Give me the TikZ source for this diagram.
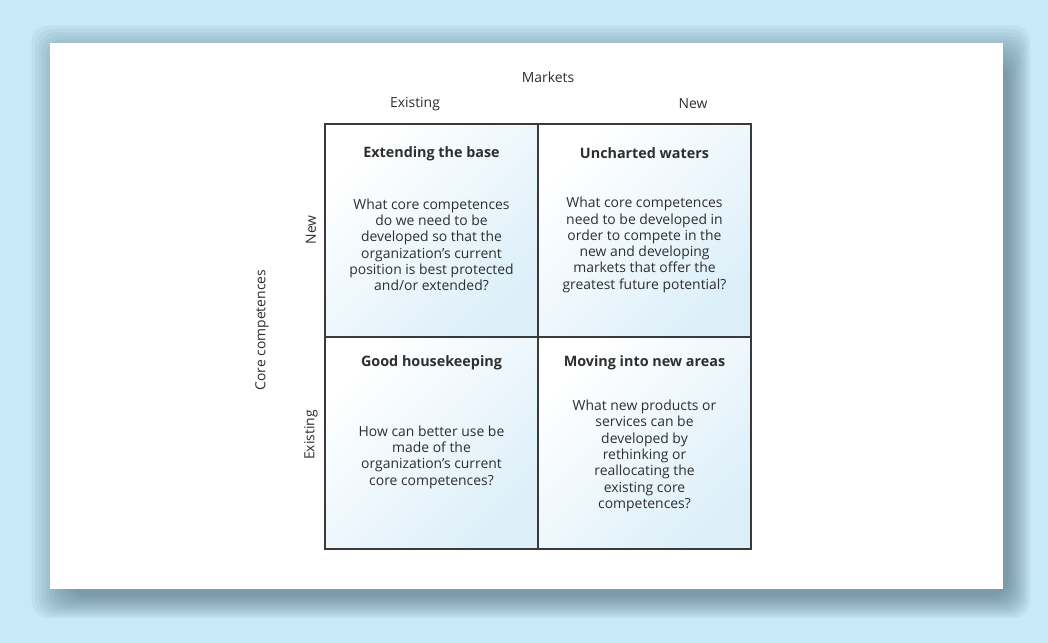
\documentclass[tikz,border=0pt]{standalone}
\usepackage{fontspec}
\setmainfont{Open Sans}
\usepackage{xcolor}
\usetikzlibrary{positioning}
\definecolor{pagebg}{HTML}{C7E9F8}
\definecolor{shadowc}{HTML}{3E5A6C}
\definecolor{cellblue}{HTML}{DCEFF9}
\definecolor{gridline}{HTML}{3A3A3A}
\definecolor{textc}{HTML}{2E2E2E}

\tikzset{
  cell/.style={draw=gridline,line width=1.1pt,minimum width=5.325cm,
               minimum height=5.31cm,inner sep=0pt,
               top color=white,bottom color=cellblue,shading angle=45},
  celltitle/.style={font=\fontsize{10.2}{12}\selectfont\bfseries,text=textc},
  cellbody/.style={font=\fontsize{9.9}{11.6}\selectfont,text=textc,align=center},
  axislabel/.style={font=\fontsize{9.9}{11.6}\selectfont,text=textc}
}

\begin{document}
\begin{tikzpicture}[x=0.025cm,y=-0.025cm]
  % page and panel
  \fill[pagebg] (0,0) rectangle (1048,643);
  \foreach \i in {0,...,11}
    \fill[shadowc,opacity=0.06,rounded corners=12pt]
      ({70-3.5*\i},{64-3.5*\i}) rectangle ({1008+2*\i},{596+2*\i});
  \fill[white] (50,43) rectangle (1003,589);

  % the matrix
  \node[cell] (eb) at (431.5,230.5) {};
  \node[cell] (uw) at (644.5,230.5) {};
  \node[cell] (gh) at (431.5,443) {};
  \node[cell] (mn) at (644.5,443) {};

  \node[celltitle] (ebt) at ([yshift=-0.75cm]eb.north) {Extending the base};
  \node[celltitle] (uwt) at ([yshift=-0.75cm]uw.north) {Uncharted waters};
  \node[celltitle] (ght) at ([yshift=-0.68cm]gh.north) {Good housekeeping};
  \node[celltitle] (mnt) at ([yshift=-0.68cm]mn.north) {Moving into new areas};

  \node[cellbody] (ebb) at ([yshift=-0.36cm]eb.center)
    {What core competences\\do we need to be\\developed so that the\\
     organization's current\\position is best protected\\and/or extended?};
  \node[cellbody] (uwb) at ([yshift=-0.36cm]uw.center)
    {What core competences\\need to be developed in\\order to compete in the\\
     new and developing\\markets that offer the\\greatest future potential?};
  \node[cellbody] (ghb) at ([yshift=-0.35cm]gh.center)
    {How can better use be\\made of the\\organization's current\\core competences?};
  \node[cellbody] (mnb) at ([yshift=-0.32cm]mn.center)
    {What new products or\\services can be\\developed by\\rethinking or\\
     reallocating the\\existing core\\competences?};

  % axes
  \node[axislabel] (mkt) at (548,77) {Markets};
  \node[axislabel] (mex) at (415,104) {Existing};
  \node[axislabel] (mnew) at (693,104) {New};
  \node[axislabel,rotate=90] (cc) at (262,330) {Core competences};
  \node[axislabel,rotate=90] (cnew) at (311,230) {New};
  \node[axislabel,rotate=90] (cex) at (311,435) {Existing};
\end{tikzpicture}
\end{document}
